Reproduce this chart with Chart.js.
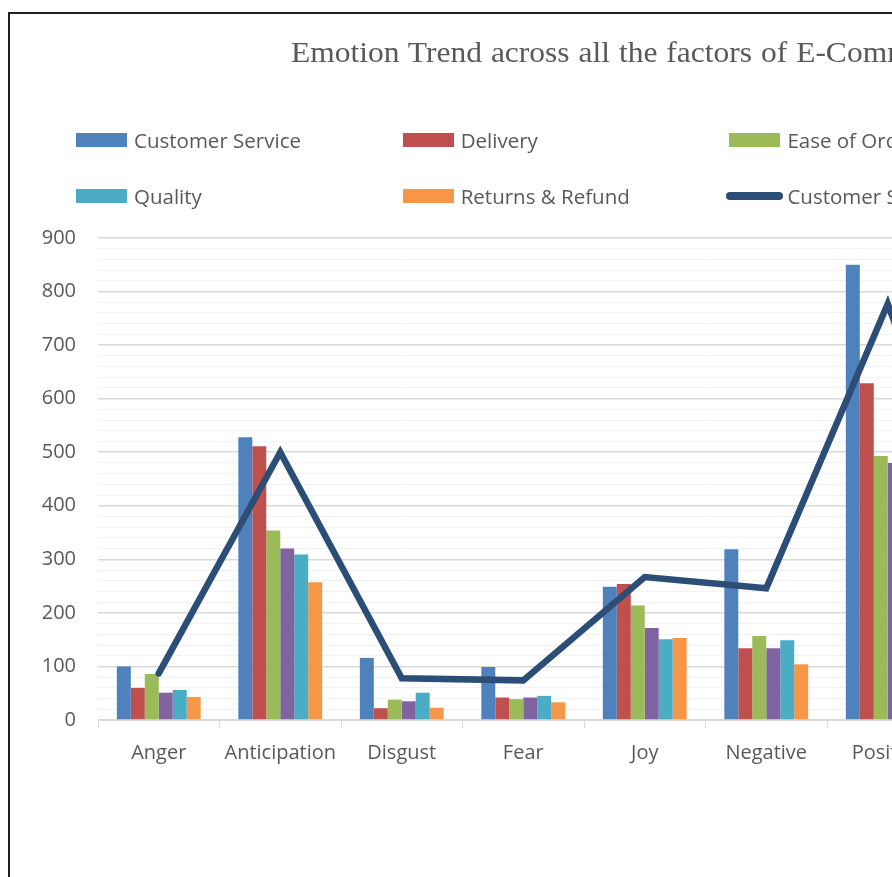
<!DOCTYPE html>
<html>
<head>
<meta charset="utf-8">
<script src="https://cdn.jsdelivr.net/npm/chart.js@4.4.0/dist/chart.umd.min.js"></script>
<style>
    html, body { margin: 0; padding: 0; background: #fff; overflow: hidden; width: 892px; height: 877px; }
    #frame { position: absolute; left: 8px; top: 12px; width: 1500px; height: 1000px; border: 2px solid #1f1f1f; box-sizing: border-box; }
    #wrap { position: absolute; left: 0; top: 0; width: 1400px; height: 900px; }
    #title { position: absolute; left: 291px; top: 32px; font-family: "Liberation Serif", serif; font-size: 30px; color: #595959; white-space: nowrap; line-height: 40px; word-spacing: 1px; transform: scaleX(1.05); transform-origin: left top; }
    .lg { position: absolute; font-family: "Open Sans", sans-serif; font-size: 20.5px; color: #595959; white-space: nowrap; line-height: 28px; }
    .sw { position: absolute; width: 51px; height: 14px; }
    .ln { position: absolute; width: 57px; height: 8px; border-radius: 4px; }
</style>
</head>
<body>
<div id="frame"></div>
<div id="wrap"><canvas id="emotionChart" width="1400" height="900"></canvas></div>
<div id="title">Emotion Trend across all the factors of E-Commerce</div>
<div id="legend"></div>

<script>
// ====== DATA ======
const categories = ['Anger', 'Anticipation', 'Disgust', 'Fear', 'Joy', 'Negative', 'Positive', 'Sadness', 'Surprise', 'Trust'];
const customerService = [100, 528, 116, 99, 249, 319, 850, 260, 150, 560];
const delivery = [60, 511, 22, 42, 254, 134, 629, 120, 110, 430];
const easeOfOrdering = [86, 354, 38, 39, 214, 157, 493, 110, 100, 360];
const price = [51, 320, 35, 42, 172, 134, 480, 105, 95, 340];
const quality = [56, 309, 51, 45, 151, 149, 470, 110, 90, 330];
const returnsRefund = [43, 257, 23, 33, 153, 104, 360, 90, 70, 250];
const trendLine = [87, 500, 78, 74, 267, 246, 777, 150, 120, 420];
const yTicks = [0, 100, 200, 300, 400, 500, 600, 700, 800, 900];

const barSeries = [
    { label: 'Customer Service', data: customerService, color: '#4F81BD' },
    { label: 'Delivery', data: delivery, color: '#C0504D' },
    { label: 'Ease of Ordering', data: easeOfOrdering, color: '#9BBB59' },
    { label: 'Price', data: price, color: '#8064A2' },
    { label: 'Quality', data: quality, color: '#4BACC6' },
    { label: 'Returns & Refund', data: returnsRefund, color: '#F79646' }
];
const lineColor = '#2C4D75';

// ====== LEGEND (grid like Excel) ======
function buildLegend() {
    const legend = document.getElementById('legend');
    const items = barSeries.map(s => ({ label: s.label, color: s.color, line: false }));
    items.push({ label: 'Customer Satisfaction', color: lineColor, line: true });
    const cols = 4;
    items.forEach((item, i) => {
        const x = 76 + (i % cols) * 326.7;
        const yc = 140 + Math.floor(i / cols) * 56;
        const mark = document.createElement('div');
        if (item.line) {
            mark.className = 'ln';
            mark.style.left = (x - 3) + 'px';
            mark.style.top = (yc - 4) + 'px';
        } else {
            mark.className = 'sw';
            mark.style.left = x + 'px';
            mark.style.top = (yc - 7) + 'px';
        }
        mark.style.background = item.color;
        legend.appendChild(mark);
        const txt = document.createElement('div');
        txt.className = 'lg';
        txt.textContent = item.label;
        txt.style.left = (x + 58) + 'px';
        txt.style.top = (yc - 14) + 'px';
        legend.appendChild(txt);
    });
}

// ====== CHART ======
function initChart() {
    const ctx = document.getElementById('emotionChart').getContext('2d');
    const datasets = barSeries.map(s => ({
        type: 'bar',
        label: s.label,
        data: s.data,
        backgroundColor: s.color,
        borderWidth: 0,
        barPercentage: 1,
        categoryPercentage: 0.69,
        order: 2
    }));
    datasets.push({
        type: 'line',
        label: 'Customer Satisfaction',
        data: trendLine,
        borderColor: lineColor,
        backgroundColor: lineColor,
        borderWidth: 6.5,
        borderCapStyle: 'round',
        borderJoinStyle: 'miter',
        pointRadius: 0,
        tension: 0,
        fill: false,
        order: 1
    });

    new Chart(ctx, {
        type: 'bar',
        data: { labels: categories, datasets: datasets },
        options: {
            responsive: false,
            animation: false,
            layout: { padding: { left: 0, right: 87, top: 238, bottom: 0 } },
            plugins: { legend: { display: false }, title: { display: false }, tooltip: { enabled: false } },
            scales: {
                x: {
                    afterFit: s => { s.height = 180; },
                    border: { display: true, color: '#D9D9D9', width: 1 },
                    grid: { offset: true, drawOnChartArea: false, drawTicks: true, tickLength: 8, color: '#D9D9D9' },
                    ticks: { color: '#595959', font: { family: 'Open Sans', size: 20 }, padding: 13, maxRotation: 0, autoSkip: false }
                },
                y: {
                    min: 0,
                    max: 900,
                    afterFit: s => { s.width = 98; },
                    afterBuildTicks: s => {
                        const t = [];
                        for (let v = 0; v <= 900; v += 20) t.push({ value: v });
                        s.ticks = t;
                    },
                    border: { display: false },
                    grid: {
                        drawTicks: false,
                        color: c => (c.tick && c.tick.value % 100 === 0) ? '#D9D9D9' : '#F2F2F2',
                        lineWidth: c => (c.tick && c.tick.value % 100 === 0) ? 1.5 : 1
                    },
                    ticks: {
                        autoSkip: false,
                        color: '#595959',
                        font: { family: 'Open Sans', size: 20 },
                        padding: 22,
                        callback: v => yTicks.includes(v) ? String(v) : ''
                    }
                }
            }
        }
    });
}

window.onload = () => {
    buildLegend();
    initChart();
};
</script>
</body>
</html>
